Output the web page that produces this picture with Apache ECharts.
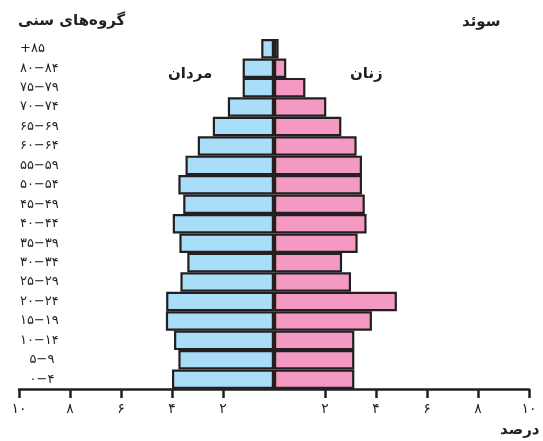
<!DOCTYPE html>
<html>
<head>
<meta charset="utf-8">
<script src="https://cdn.jsdelivr.net/npm/echarts@6/dist/echarts.min.js"></script>
<style>
html,body{margin:0;padding:0;background:#fff;}
#chart{width:543px;height:441px;}
</style>
</head>
<body>
<div id="chart"></div>
<script>
// Age groups, bottom to top
const ageGroups = ['۰−۴','۵−۹','۱۰−۱۴','۱۵−۱۹','۲۰−۲۴','۲۵−۲۹','۳۰−۳۴','۳۵−۳۹','۴۰−۴۴','۴۵−۴۹','۵۰−۵۴','۵۵−۵۹','۶۰−۶۴','۶۵−۶۹','۷۰−۷۴','۷۵−۷۹','۸۰−۸۴','+۸۵'];
// Percent of population (men drawn to the left)
const menValues = [4.0, 3.75, 3.92, 4.24, 4.23, 3.67, 3.4, 3.71, 3.97, 3.56, 3.75, 3.47, 2.99, 2.4, 1.81, 1.23, 1.23, 0.5];
const womenValues = [3.15, 3.15, 3.15, 3.84, 4.82, 3.02, 2.67, 3.28, 3.63, 3.56, 3.45, 3.45, 3.24, 2.64, 2.05, 1.23, 0.48, 0.18];
const tickValues = [-10, -8, -6, -4, -2, 2, 4, 6, 8, 10];
const shortLabels = ['۰−۴','۵−۹'];

const faDigits = '۰۱۲۳۴۵۶۷۸۹';
function toFa(n){ return String(n).replace(/[0-9]/g, d => faDigits[+d]); }

const FONT = 'DejaVu Sans';
const chart = echarts.init(document.getElementById('chart'), null, {renderer:'canvas'});
chart.setOption({
  animation: false,
  backgroundColor: '#fff',
  textStyle: {fontFamily: FONT, color: '#231f20'},
  grid: {left: 19, right: 14, top: 39, bottom: 52, containLabel: false},
  xAxis: {
    type: 'value', min: -10, max: 10, interval: 2,
    splitLine: {show: false},
    axisLine: {show: true, onZero: false, lineStyle: {color: '#231f20', width: 2.5}},
    axisTick: {show: true, customValues: tickValues, length: 9, lineStyle: {color: '#231f20', width: 2.5}},
    axisLabel: {customValues: tickValues, margin: 13, fontSize: 14, color: '#231f20', fontFamily: FONT,
      formatter: v => toFa(Math.abs(v))}
  },
  yAxis: {
    type: 'category', data: ageGroups, position: 'left',
    axisLine: {show: false}, axisTick: {show: false},
    axisLabel: {inside: true, margin: 1, fontSize: 13, color: '#231f20', fontFamily: FONT,
      formatter: v => shortLabels.includes(v) ? '{c|' + v + '}' : '{a|' + v + '}',
      rich: {a: {width: 44, align: 'left', fontSize: 13, fontFamily: FONT, color: '#231f20'},
             c: {width: 44, align: 'center', fontSize: 13, fontFamily: FONT, color: '#231f20'}}}
  },
  series: [
    {name: 'مردان', type: 'bar', data: menValues.map(v => -v), barWidth: '100%', barGap: '-100%',
      itemStyle: {color: '#a8def8', borderColor: '#231f20', borderWidth: 2.2}},
    {name: 'زنان', type: 'bar', data: womenValues, barWidth: '100%', barGap: '-100%',
      itemStyle: {color: '#f49ac2', borderColor: '#231f20', borderWidth: 2.2}}
  ],
  graphic: [
    {type: 'text', left: 18, top: 14, style: {text: 'گروه‌های سنی', font: 'bold 15px "DejaVu Sans"', fill: '#231f20'}},
    {type: 'text', left: 462, top: 15, style: {text: 'سوئد', font: 'bold 15px "DejaVu Sans"', fill: '#231f20'}},
    {type: 'text', left: 168, top: 67, style: {text: 'مردان', font: 'bold 15px "DejaVu Sans"', fill: '#231f20'}},
    {type: 'text', left: 350, top: 67, style: {text: 'زنان', font: 'bold 15px "DejaVu Sans"', fill: '#231f20'}},
    {type: 'text', left: 500, top: 423, style: {text: 'درصد', font: 'bold 15px "DejaVu Sans"', fill: '#231f20'}}
  ]
});
</script>
</body>
</html>
